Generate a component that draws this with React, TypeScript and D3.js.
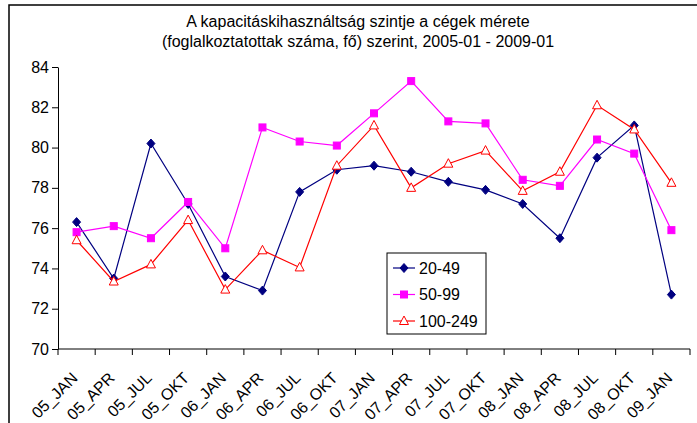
import React, { useEffect, useRef } from "react";
import * as d3 from "d3";

const categories = [
  "05_JAN", "05_APR", "05_JUL", "05_OKT",
  "06_JAN", "06_APR", "06_JUL", "06_OKT",
  "07_JAN", "07_APR", "07_JUL", "07_OKT",
  "08_JAN", "08_APR", "08_JUL", "08_OKT",
  "09_JAN",
];

const s20_49 = [76.3, 73.5, 80.2, 77.2, 73.6, 72.9, 77.8, 78.9, 79.1, 78.8, 78.3, 77.9, 77.2, 75.5, 79.5, 81.1, 72.7];
const s50_99 = [75.8, 76.1, 75.5, 77.3, 75.0, 81.0, 80.3, 80.1, 81.7, 83.3, 81.3, 81.2, 78.4, 78.1, 80.4, 79.7, 75.9];
const s100_249 = [75.4, 73.35, 74.2, 76.4, 72.95, 74.9, 74.05, 79.1, 81.1, 78.0, 79.2, 79.85, 77.85, 78.8, 82.1, 80.9, 78.25];

const yTicks = [70, 72, 74, 76, 78, 80, 82, 84];

const titleLines = [
  "A kapacitáskihasználtság szintje a cégek mérete",
  "(foglalkoztatottak száma, fő) szerint, 2005-01 - 2009-01",
];

const seriesList = [
  { name: "20-49", values: s20_49, color: "#000080", marker: "diamond" },
  { name: "50-99", values: s50_99, color: "#FF00FF", marker: "square" },
  { name: "100-249", values: s100_249, color: "#FF0000", marker: "triangle" },
];

const FONT = "'Liberation Sans', Arial, sans-serif";

const App = () => {
  const svgRef = useRef<SVGSVGElement>(null);

  useEffect(() => {
    if (!svgRef.current) return;
    const width = 697;
    const height = 423;
    const margin = { top: 67, right: 7, bottom: 74, left: 58 };

    const svg = d3.select(svgRef.current);
    svg.selectAll("*").remove();
    svg.attr("width", width).attr("height", height);

    // outer chart frame
    svg
      .append("rect")
      .attr("x", 9)
      .attr("y", 5)
      .attr("width", 720)
      .attr("height", 440)
      .attr("fill", "white")
      .attr("stroke", "black")
      .attr("stroke-width", 1.5);

    // title
    svg
      .append("g")
      .selectAll("text")
      .data(titleLines)
      .join("text")
      .attr("x", 358)
      .attr("y", (_, i) => 27 + i * 20)
      .attr("text-anchor", "middle")
      .style("font-family", FONT)
      .style("font-size", "16px")
      .text((d) => d);

    const x = d3
      .scaleBand()
      .domain(categories)
      .range([margin.left, width - margin.right]);
    const y = d3
      .scaleLinear()
      .domain([70, 84])
      .range([height - margin.bottom, margin.top]);

    // y axis
    const yAxis = svg
      .append("g")
      .attr("transform", `translate(${margin.left},0)`)
      .call(d3.axisLeft(y).tickValues(yTicks).tickSize(6).tickSizeOuter(0));
    yAxis.select(".domain").attr("stroke", "black");
    yAxis
      .selectAll("text")
      .style("font-family", FONT)
      .style("font-size", "16px")
      .attr("fill", "black")
      .attr("x", -9);

    // x axis with ticks at category boundaries
    const xAxisG = svg
      .append("g")
      .attr("transform", `translate(0,${y(70)})`);
    xAxisG
      .append("line")
      .attr("x1", margin.left)
      .attr("x2", width - margin.right)
      .attr("stroke", "black");
    const boundaries = categories.map((c) => x(c)!).concat([width - margin.right]);
    xAxisG
      .selectAll("line.tick")
      .data(boundaries)
      .join("line")
      .attr("class", "tick")
      .attr("x1", (d) => d)
      .attr("x2", (d) => d)
      .attr("y1", 0)
      .attr("y2", 6)
      .attr("stroke", "black");
    xAxisG
      .selectAll("text")
      .data(categories)
      .join("text")
      .attr(
        "transform",
        (d) => `translate(${x(d)! + x.bandwidth() / 2 - 2},${26}) rotate(-45)`
      )
      .attr("text-anchor", "end")
      .attr("dy", "0.35em")
      .style("font-family", FONT)
      .style("font-size", "16px")
      .text((d) => d);

    const cx = (i: number) => x(categories[i])! + x.bandwidth() / 2;

    const drawMarker = (
      g: d3.Selection<SVGGElement, unknown, null, undefined>,
      kind: string,
      color: string,
      px: number,
      py: number
    ) => {
      if (kind === "diamond") {
        g.append("path")
          .attr("d", `M${px},${py - 4.5}L${px + 4},${py}L${px},${py + 4.5}L${px - 4},${py}Z`)
          .attr("fill", color)
          .attr("stroke", color);
      } else if (kind === "square") {
        g.append("rect")
          .attr("x", px - 3.5)
          .attr("y", py - 3.5)
          .attr("width", 7)
          .attr("height", 7)
          .attr("fill", color)
          .attr("stroke", color);
      } else {
        g.append("path")
          .attr("d", `M${px},${py - 5}L${px + 4.5},${py + 3.5}L${px - 4.5},${py + 3.5}Z`)
          .attr("fill", "white")
          .attr("stroke", color)
          .attr("stroke-width", 1);
      }
    };

    const line = d3
      .line<number>()
      .x((_, i) => cx(i))
      .y((d) => y(d));

    seriesList.forEach((s) => {
      const g = svg.append("g");
      g.append("path")
        .attr("d", line(s.values))
        .attr("fill", "none")
        .attr("stroke", s.color)
        .attr("stroke-width", 1.2);
      s.values.forEach((v, i) => drawMarker(g, s.marker, s.color, cx(i), y(v)));
    });

    // legend
    const legend = svg.append("g").attr("transform", "translate(387,253)");
    legend
      .append("rect")
      .attr("width", 99)
      .attr("height", 81)
      .attr("fill", "white")
      .attr("stroke", "black")
      .attr("stroke-width", 1);
    seriesList.forEach((s, i) => {
      const ly = 15 + i * 26.5;
      const g = legend.append("g");
      g.append("line")
        .attr("x1", 6)
        .attr("x2", 28)
        .attr("y1", ly)
        .attr("y2", ly)
        .attr("stroke", s.color)
        .attr("stroke-width", 1.2);
      drawMarker(g, s.marker, s.color, 17, ly);
      g.append("text")
        .attr("x", 32)
        .attr("y", ly)
        .attr("dy", "0.35em")
        .style("font-family", FONT)
        .style("font-size", "16px")
        .text(s.name);
    });
  }, []);

  return <svg ref={svgRef} style={{ position: "absolute", left: 0, top: 0 }}></svg>;
};

export default App;
